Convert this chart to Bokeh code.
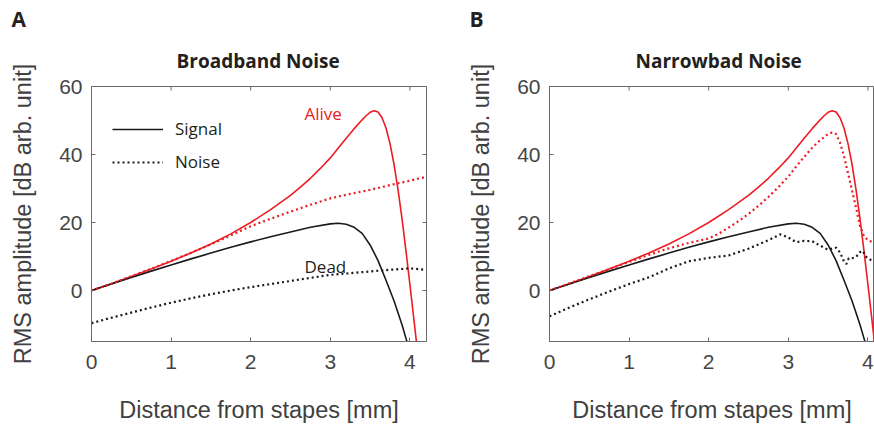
import math
from bokeh.plotting import figure
from bokeh.layouts import row
from bokeh.models import Label, LinearAxis, Legend, LegendItem, Range1d, FixedTicker, Title
from bokeh.embed import file_html
from bokeh.resources import INLINE

# ---------------- data ----------------
x_ticks = [0, 1, 2, 3, 4]
y_ticks = [0, 20, 40, 60]
y_min, y_max = -15, 60

# Signal, alive cochlea (red solid, same in both panels)
sig_alive_x = [0, 0.25, 0.5, 0.75, 1.0, 1.25, 1.5, 1.75, 2.0, 2.25, 2.5, 2.625, 2.75, 2.875, 3.0,
               3.1, 3.2, 3.3, 3.4, 3.45, 3.5, 3.55, 3.6, 3.65, 3.7, 3.75, 3.8, 3.85, 3.9, 3.95, 4.0, 4.05, 4.1]
sig_alive_y = [0, 2.0, 4.1, 6.3, 8.6, 11.05, 13.7, 16.65, 20.0, 23.8, 28.0, 30.4, 33.0, 35.9, 39.0,
               41.9, 44.8, 47.6, 50.2, 51.4, 52.4, 52.9, 52.5, 50.8, 47.8, 43.2, 37.2, 29.8, 21.3, 11.8, 1.8, -8.5, -18.8]

# Signal, dead cochlea (black solid, same in both panels)
sig_dead_x = [0, 0.25, 0.5, 0.75, 1.0, 1.25, 1.5, 1.75, 2.0, 2.25, 2.5, 2.75, 3.0, 3.1, 3.2,
              3.3, 3.4, 3.5, 3.6, 3.7, 3.8, 3.9, 3.95, 4.0]
sig_dead_y = [0, 1.9, 3.8, 5.7, 7.5, 9.3, 11.0, 12.7, 14.3, 15.8, 17.2, 18.6, 19.6, 19.8, 19.5,
              18.6, 16.8, 13.4, 8.8, 3.0, -3.0, -10.0, -14.0, -18.0]

# Broadband noise
bb_alive_x = [0, 0.25, 0.5, 0.75, 1.0, 1.25, 1.5, 1.75, 2.0, 2.25, 2.5, 2.75, 3.0, 3.25, 3.5, 3.75, 4.0, 4.2]
bb_alive_y = [0, 2.0, 4.2, 6.4, 8.7, 11.1, 13.6, 16.2, 18.9, 21.1, 23.2, 25.2, 27.1, 28.4, 29.6, 31.0, 32.3, 33.4]
bb_dead_x = [0, 0.25, 0.5, 0.75, 1.0, 1.25, 1.5, 1.75, 2.0, 2.25, 2.5, 2.75, 3.0, 3.25, 3.5, 3.75, 4.0, 4.2]
bb_dead_y = [-9.6, -8.0, -6.5, -5.0, -3.6, -2.3, -1.1, 0.0, 1.0, 1.9, 2.8, 3.7, 4.6, 5.1, 5.6, 6.1, 6.5, 6.1]

# Narrowband noise
nb_alive_x = [0, 0.25, 0.5, 0.75, 1.0, 1.25, 1.5, 1.75, 2.0, 2.125, 2.25, 2.375, 2.5, 2.625, 2.75, 2.875,
              3.0, 3.1, 3.2, 3.3, 3.4, 3.5, 3.55, 3.6, 3.65, 3.7, 3.75, 3.8, 3.85, 3.9, 3.95, 4.0, 4.05, 4.08]
nb_alive_y = [0, 2.1, 4.2, 6.3, 8.4, 10.5, 12.4, 14.0, 15.3, 16.7, 18.5, 20.4, 22.5, 24.9, 27.5, 30.4,
              33.5, 36.5, 39.3, 42.0, 44.2, 46.0, 46.5, 46.0, 43.5, 39.5, 34.5, 29.5, 24.5, 19.0, 16.0, 14.8, 14.3, 14.0]
nb_dead_x = [0, 0.25, 0.5, 0.75, 1.0, 1.25, 1.5, 1.75, 2.0, 2.25, 2.5, 2.75, 2.9, 3.0, 3.1, 3.2,
             3.3, 3.4, 3.5, 3.55, 3.6, 3.65, 3.7, 3.73, 3.76, 3.8, 3.85, 3.9, 3.94, 3.97, 4.0, 4.04, 4.08]
nb_dead_y = [-7.6, -5.0, -2.6, -0.3, 1.9, 3.9, 6.5, 8.6, 9.6, 10.3, 12.3, 14.8, 16.5, 15.6, 14.2, 14.6,
             14.5, 13.2, 12.0, 12.3, 12.6, 11.2, 8.5, 7.8, 9.5, 9.5, 9.8, 11.3, 11.6, 10.0, 9.6, 8.9, 8.6]

titles = ["Broadband Noise", "Narrowbad Noise"]
letters = ["A", "B"]
x_label = "Distance from stapes [mm]"
y_label = "RMS amplitude [dB arb. unit]"

RED = "#ed1c24"
BLACK = "#1a1a1a"
AXIS_COLOR = "#6a6a6a"
TICK_TEXT = "#454545"
TICK_FONT = "Liberation Sans"
HUM_FONT = "Open Sans"


def make_panel(width, left, right, x_end, right_ticks, title_offset, noise_alive, noise_dead,
               title, letter, legend):
    p = figure(width=width, height=426, output_backend="svg", toolbar_location=None,
               x_range=Range1d(0, x_end), y_range=Range1d(y_min, y_max),
               min_border_left=left, min_border_right=right, min_border_top=86, min_border_bottom=85,
               x_axis_location=None, y_axis_location=None)
    p.outline_line_color = AXIS_COLOR
    p.xgrid.visible = False
    p.ygrid.visible = False
    p.background_fill_color = "white"
    p.border_fill_color = "white"

    # panel letter (outermost title)
    p.title.text = letter
    p.title.align = "left"
    p.title.offset = -80
    p.title.text_font = HUM_FONT
    p.title.text_font_style = "bold"
    p.title.text_font_size = "21px"
    p.title.text_color = "#231f20"
    p.title.standoff = 1

    # panel heading (nearest the frame)
    p.add_layout(Title(text=title, align="left", offset=title_offset, text_font=HUM_FONT,
                       text_font_style="bold", text_font_size="19px", text_color="#231f20",
                       standoff=25), "above")

    def style(ax, ticks):
        ax.ticker = FixedTicker(ticks=ticks)
        ax.minor_tick_line_color = None
        ax.major_tick_in = 4
        ax.major_tick_out = 0
        ax.major_tick_line_color = AXIS_COLOR
        ax.axis_line_color = AXIS_COLOR
        ax.major_label_text_font = TICK_FONT
        ax.major_label_text_font_size = "21px"
        ax.major_label_text_color = TICK_TEXT
        ax.axis_label_text_font = TICK_FONT
        ax.axis_label_text_font_size = "23.5px"
        ax.axis_label_text_font_style = "normal"
        ax.axis_label_text_color = "#404040"

    bottom = LinearAxis(axis_label=x_label)
    style(bottom, x_ticks)
    bottom.major_label_standoff = 13
    bottom.axis_label_standoff = 25
    p.add_layout(bottom, "below")
    leftax = LinearAxis(axis_label=y_label)
    style(leftax, y_ticks)
    leftax.major_label_standoff = 9
    leftax.axis_label_standoff = 20
    p.add_layout(leftax, "left")

    # inward ticks on the top (and right) edges; half of each dash is clipped by the frame
    p.scatter(x_ticks, [y_max] * len(x_ticks), marker="dash", angle=math.pi / 2, size=8,
              line_color=AXIS_COLOR, line_width=1)
    if right_ticks:
        p.scatter([x_end] * len(y_ticks), y_ticks, marker="dash", size=8,
                  line_color=AXIS_COLOR, line_width=1)

    r_sa = p.line(sig_alive_x, sig_alive_y, line_color=RED, line_width=1.6)
    r_sd = p.line(sig_dead_x, sig_dead_y, line_color=BLACK, line_width=1.6)
    r_na = p.line(noise_alive[0], noise_alive[1], line_color=RED, line_width=2.2, line_dash="2 3")
    r_nd = p.line(noise_dead[0], noise_dead[1], line_color=BLACK, line_width=2.2, line_dash="2 3")

    if legend:
        lg = Legend(items=[LegendItem(label="Signal", renderers=[r_sd]),
                           LegendItem(label="Noise", renderers=[r_nd])],
                    location=(21, 168), padding=0, margin=0, spacing=10,
                    glyph_width=51, glyph_height=20, label_height=20, label_standoff=12,
                    label_text_font=HUM_FONT, label_text_font_size="17px", label_text_color="#231f20",
                    background_fill_alpha=0, border_line_color=None)
        p.add_layout(lg, "center")
        p.add_layout(Label(x=213, y=227.7, x_units="screen", y_units="screen", text="Alive",
                           text_font=HUM_FONT, text_font_size="17px", text_color=RED,
                           text_align="left", text_baseline="alphabetic"))
        p.add_layout(Label(x=213, y=75.3, x_units="screen", y_units="screen", text="Dead",
                           text_font=HUM_FONT, text_font_size="17px", text_color="#231f20",
                           text_align="left", text_baseline="alphabetic"))
    return p


pA = make_panel(440, 91, 14, 335 / 79.6, True, 85, (bb_alive_x, bb_alive_y), (bb_dead_x, bb_dead_y),
                titles[0], letters[0], True)
pB = make_panel(434, 109, 0, 325 / 79.6, False, 86, (nb_alive_x, nb_alive_y), (nb_dead_x, nb_dead_y),
                titles[1], letters[1], False)

layout = row(pA, pB)
open("out.html", "w").write(file_html(layout, INLINE))
